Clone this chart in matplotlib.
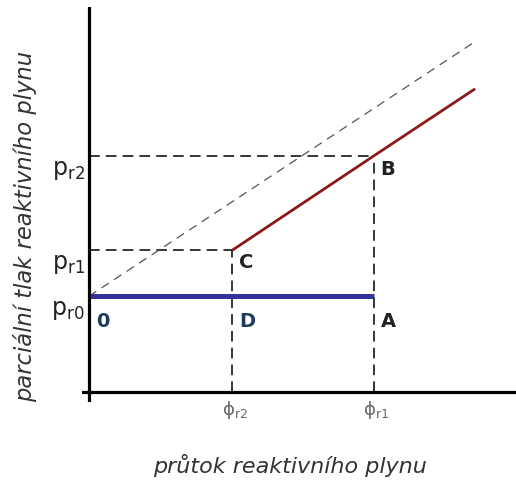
import matplotlib
matplotlib.use("Agg")
import matplotlib.pyplot as plt

plt.rcParams['mathtext.default'] = 'regular'
plt.rcParams['font.family'] = ['DejaVu Sans']

# flow positions (phi_r2, phi_r1) and pressure levels
phi_r2 = 1.0
phi_r1 = 1.99
p_r0 = 0.67
p_r1 = 0.99
p_r2 = 1.65

# series
blue_x = [0.0, phi_r1]
blue_y = [p_r0, p_r0]
red_x = [phi_r2, phi_r1, 2.70]
red_y = [p_r1, p_r2, 2.12]
gray_x = [0.0, 2.70]
gray_y = [p_r0, 2.45]

y_tick_labels = ["p$_{r0}$", "p$_{r1}$", "p$_{r2}$"]
x_tick_labels = ["ϕ$_{r2}$", "ϕ$_{r1}$"]
point_labels = ["0", "D", "A", "C", "B"]

fig = plt.figure(figsize=(5.16, 4.85), dpi=100)
ax = fig.add_axes([82/516, (485-403)/485, 1-82/516, (403-8)/485])
ax.set_xlim(-0.049, 2.986)
ax.set_ylim(-0.07, 2.692)
ax.set_axis_off()

# axes lines
ax.axhline(0, color='black', lw=2.3, zorder=5)
ax.axvline(0, color='black', lw=2.3, zorder=5)

dash = (0, (7, 4))
# guide dashed lines
ax.plot([0, phi_r1], [p_r2, p_r2], color='black', lw=1.1, ls=dash)
ax.plot([phi_r1, phi_r1], [0, p_r2], color='black', lw=1.1, ls=dash)
ax.plot([0, phi_r2], [p_r1, p_r1], color='black', lw=1.1, ls=dash)
ax.plot([phi_r2, phi_r2], [0, p_r1], color='black', lw=1.1, ls=dash)

ax.plot(gray_x, gray_y, color='#555555', lw=0.9, ls=(0, (7, 5)))
ax.plot(red_x, red_y, color='#8b1a1a', lw=2.0, solid_capstyle='butt')
ax.plot(blue_x, blue_y, color='#333399', lw=3.6, solid_capstyle='butt', zorder=4)

# y tick labels
for lab, yv in zip(y_tick_labels, [p_r0, p_r1, p_r2]):
    ax.text(-0.03, yv - 0.09, lab, ha='right', va='center', fontsize=17, color='#222222')

# x tick labels
for lab, xv in zip(x_tick_labels, [phi_r2, phi_r1]):
    ax.text(xv + 0.02, -0.12, lab, ha='center', va='center', fontsize=13, color='#666666')

# point labels
pts_x = [0.0, phi_r2, phi_r1, phi_r2, phi_r1]
pts_y = [p_r0, p_r0, p_r0, p_r1, p_r2]
offs_y = [-0.17, -0.17, -0.17, -0.08, -0.09]
colors = ['#1f3a5f', '#1f3a5f', '#222222', '#222222', '#222222']
for lab, xv, yv, oy, c in zip(point_labels, pts_x, pts_y, offs_y, colors):
    ax.text(xv + 0.05, yv + oy, lab, ha='left', va='center', fontsize=14,
            fontweight='bold', color=c)

fig.text(25/516, 1 - 226/485, "parciální tlak reaktivního plynu", rotation=90,
         ha='center', va='center', fontsize=16.3, style='italic', color='#333333')
fig.text(290/516, 1 - 466/485, "průtok reaktivního plynu",
         ha='center', va='center', fontsize=16, style='italic', color='#333333')

fig.savefig("out.png", dpi=100)
